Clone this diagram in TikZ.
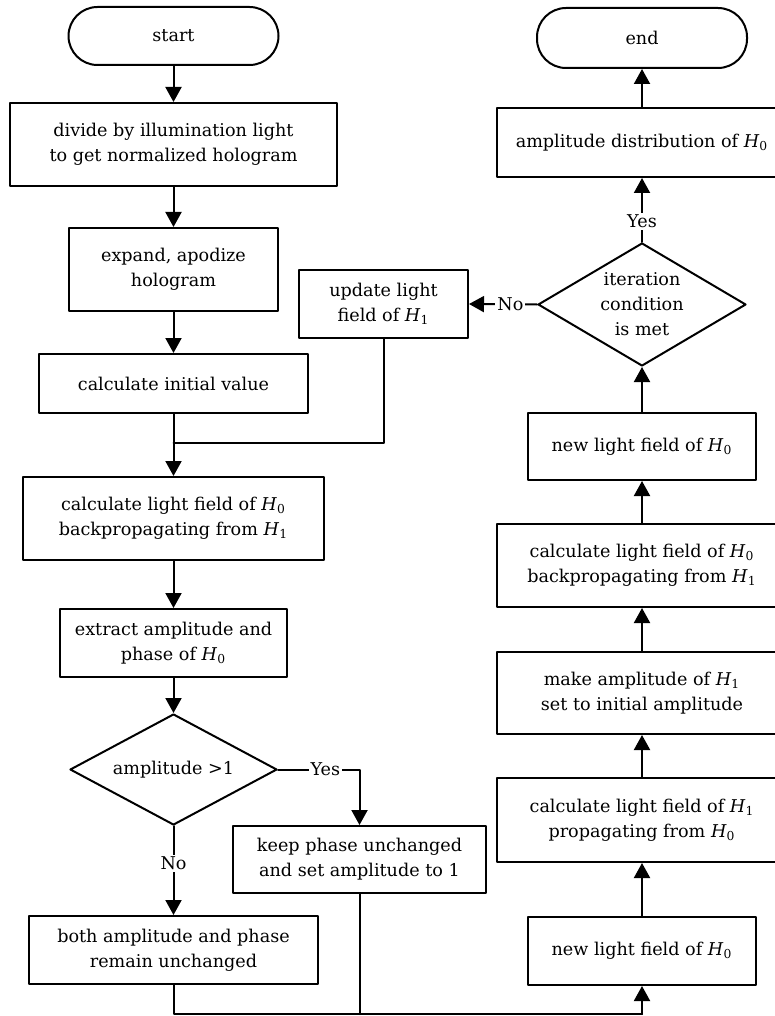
\documentclass[tikz,border=0pt]{standalone}
\usepackage{fontspec}
\setmainfont{DejaVu Serif}
\usetikzlibrary{shapes.geometric,arrows.meta}
\newcommand*{\Hs}[1]{\textit{H}\textsubscript{#1}}
\begin{document}
\begin{tikzpicture}[x=0.5pt,y=-0.5pt,line cap=round,line join=round,>={Triangle[length=7.5pt,width=8pt]},
		every node/.style={font=\fontsize{8.8}{12.5}\selectfont},
		procbox/.style={draw,line width=1pt,align=center,inner sep=0pt},
		termbox/.style={draw,line width=1pt,rounded corners=14.5pt,inner sep=0pt},
		testbox/.style={draw,diamond,line width=1pt,align=center,inner sep=0pt},
		flow/.style={line width=1pt},
		tag/.style={fill=white,inner sep=1pt}]
		\useasboundingbox (0,0) rectangle (775,1016);
		\clip (0,0) rectangle (775,1016);
		% left column
		\node[termbox,minimum width=105pt,minimum height=29pt] (start) at (173.5,36) {start};
		\node[procbox,minimum width=163.5pt,minimum height=41.5pt] (divide) at (173.5,144.5) {divide by illumination light\\to get normalized hologram};
		\node[procbox,minimum width=104.5pt,minimum height=41.5pt] (expand) at (173.5,269.5) {expand, apodize\\hologram};
		\node[procbox,minimum width=134.5pt,minimum height=29.5pt] (init) at (173.5,383.5) {calculate initial value};
		\node[procbox,minimum width=150.5pt,minimum height=41.5pt] (backL) at (173.5,518.5) {calculate light field of \Hs{0}\\backpropagating from \Hs{1}};
		\node[procbox,minimum width=113.5pt,minimum height=34pt] (extract) at (173.5,643) {extract amplitude and\\phase of \Hs{0}};
		\node[testbox,aspect=1.86,minimum width=103.5pt,minimum height=55.5pt] (ampchk) at (173.5,769.5) {amplitude >1};
		\node[procbox,minimum width=144.5pt,minimum height=34pt] (both) at (173.5,950) {both amplitude and phase\\remain unchanged};
		\node[procbox,minimum width=126.5pt,minimum height=33.5pt] (keep) at (359.5,859.5) {keep phase unchanged\\and set amplitude to 1};
		\node[procbox,minimum width=84.5pt,minimum height=34pt] (update) at (383.5,304) {update light\\field of \Hs{1}};
		% right column
		\node[termbox,minimum width=105pt,minimum height=30pt] (end) at (642,38) {end};
		\node[procbox,minimum width=145pt,minimum height=34.5pt] (ampdist) at (642,142.5) {amplitude distribution of \Hs{0}};
		\node[testbox,aspect=1.69,minimum width=104pt,minimum height=61.5pt] (iter) at (642,304.5) {iteration\\condition\\is met};
		\node[procbox,minimum width=114pt,minimum height=33.5pt] (newA) at (642,446.5) {new light field of \Hs{0}};
		\node[procbox,minimum width=145pt,minimum height=41.5pt] (backR) at (642,565.5) {calculate light field of \Hs{0}\\backpropagating from \Hs{1}};
		\node[procbox,minimum width=145pt,minimum height=41pt] (setamp) at (642,693) {make amplitude of \Hs{1}\\set to initial amplitude};
		\node[procbox,minimum width=145pt,minimum height=42pt] (prop) at (642,820) {calculate light field of \Hs{1}\\propagating from \Hs{0}};
		\node[procbox,minimum width=114pt,minimum height=34pt] (newB) at (642,951) {new light field of \Hs{0}};
		\coordinate (merge) at (173.5,443);
		\coordinate (base) at (642,1014);
		% connectors
		\draw[flow,->] (start) -- (divide);
		\draw[flow,->] (divide) -- (expand);
		\draw[flow,->] (expand) -- (init);
		\draw[flow,->] (init) -- (backL);
		\draw[flow] (update.south) |- (merge);
		\draw[flow,->] (backL) -- (extract);
		\draw[flow,->] (extract) -- (ampchk);
		\draw[flow,->] (ampchk.east) -| node[tag,pos=0.29]{Yes} (keep.north);
		\draw[flow,->] (ampchk.south) -- node[tag,pos=0.42]{No} (both.north);
		\draw[flow] (both.south) |- (base);
		\draw[flow] (keep.south) -- (keep.south |- base);
		\draw[flow,->] (base) -- (newB.south);
		\draw[flow,->] (newB) -- (prop);
		\draw[flow,->] (prop) -- (setamp);
		\draw[flow,->] (setamp) -- (backR);
		\draw[flow,->] (backR) -- (newA);
		\draw[flow,->] (newA) -- (iter);
		\draw[flow,->] (iter.north) -- node[tag,pos=0.32]{Yes} (ampdist.south);
		\draw[flow,->] (iter.west) -- node[tag,pos=0.39]{No} (update.east);
		\draw[flow,->] (ampdist) -- (end);
	\end{tikzpicture}
\end{document}
